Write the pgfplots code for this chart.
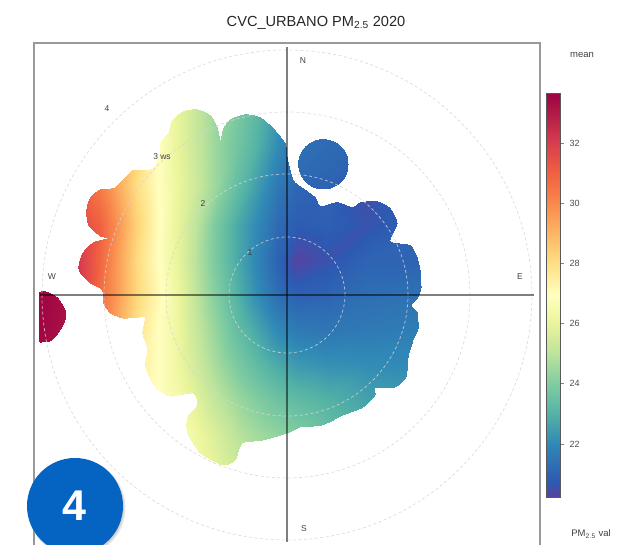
\documentclass[border=0pt]{standalone}
\usepackage{pgfplots}
\pgfplotsset{compat=1.18}
\usepackage{fontspec}
\setmainfont{Liberation Sans}
\definecolor{gridc}{gray}{0.84}
\definecolor{framec}{gray}{0.60}
\definecolor{badge}{RGB}{5,99,193}
\pgfplotsset{
  colormap={cvc}{
    rgb255(0pt)=(90,65,160);
    rgb255(5pt)=(45,90,178);
    rgb255(18pt)=(48,138,182);
    rgb255(28pt)=(85,180,165);
    rgb255(38pt)=(130,205,160);
    rgb255(48pt)=(190,228,155);
    rgb255(58pt)=(235,245,155);
    rgb255(67pt)=(255,255,190);
    rgb255(78pt)=(254,222,130);
    rgb255(88pt)=(253,180,100);
    rgb255(98pt)=(248,135,75);
    rgb255(108pt)=(240,95,65);
    rgb255(118pt)=(215,60,78);
    rgb255(128pt)=(175,25,70);
    rgb255(134.2pt)=(158,1,66)
  },
  base/.style={
    at={(34pt,-2pt)},anchor=south west,scale only axis,width=506pt,height=504pt,
    xmin=-253,xmax=253,ymin=-252,ymax=252,xtick=\empty,ytick=\empty,
  }
}
\begin{document}
\begin{tikzpicture}[x=1pt,y=1pt]
\useasboundingbox (0,0) rectangle (630,545);
\begin{axis}[base,axis line style={framec,line width=1.5pt},
  colormap name=cvc,point meta min=20.24,point meta max=33.66,
  colorbar,
  colorbar style={anchor=south west,at={(1.0119,0.0992)},width=14pt,height=404pt,
    ytick={22,24,26,28,30,32},
    ytick pos=right,
    major tick length=3.5pt,
    tick style={gray,line width=0.7pt},
    axis line style={gray!70!black,line width=0.5pt},
    tick align=outside,
    yticklabel style={font=\fontsize{9}{10}\selectfont,text=black!70,xshift=2.5pt,
       /pgf/number format/assume math mode=true},
    yticklabel pos=right},
  ]
\clip plot[smooth,tension=0.38] coordinates {
(0,138)(-2,152)(-14,167)(-27,178)(-42,181)(-57,176)(-64,167)(-67,155)
(-70,168)(-77,180)(-90,186)(-104,184)(-115,175)(-119,162)(-127,153)(-127,142)
(-134,127)(-144,125)(-155,125)(-167,113)(-174,107)(-187,106)(-197,98)(-201,85)
(-199,70)(-187,59)(-179,57)(-194,53)(-205,42)(-209,28)(-207,22)(-197,12)
(-185,5)(-184,-8)(-177,-18)(-164,-23)(-147,-22)(-142,-22)(-145,-38)(-140,-53)
(-142,-72)(-132,-92)(-117,-101)(-94,-98)(-90,-110)(-100,-122)(-100,-138)(-87,-158)
(-64,-170)(-52,-165)(-45,-148)(-24,-145)(0,-138)(13,-132)(35,-130)(56,-120)
(76,-112)(88,-100)(88,-93)(108,-92)(119,-82)(121,-62)(126,-45)(131,-33)
(130,-17)(124,-10)(131,-2)(134,8)(133,25)(130,38)(123,50)(103,54)
(110,72)(103,87)(90,94)(73,93)(65,88)(50,93)(33,89)(28,98)
(16,107)(6,115)(0,138)}
 -- cycle
 plot[smooth,tension=0.5] coordinates {
(-248,3)(-242,4)(-230,-2)(-222,-15)(-222,-25)(-229,-38)(-237,-46)(-248,-47)}
 -- cycle
 plot[smooth cycle,tension=0.7] coordinates {
(61,131)(58,143.5)(48.5,152.7)(36,156)(23.5,152.7)(14.3,143.5)
(11,131)(14.3,118.5)(23.5,109.3)(36,106)(48.5,109.3)(58,118.5)};
\addplot[surf,shader=interp,mesh/cols=17,mesh/rows=11,point meta=\thisrow{v}] table[row sep=\\,x=x,y=y] {
x y v\\
-250 190 32\\ -222 190 31.5\\ -205 190 31\\ -187 190 30.3\\ -170 190 29.6\\ -150 190 28.4\\ -130 190 27.2\\ -110 190 26\\ -90 190 25.2\\ -70 190 24.4\\ -50 190 23.9\\ -30 190 23.2\\ -10 190 22.4\\ 10 190 21.6\\ 40 190 21.2\\ 80 190 21\\ 135 190 21\\
-250 150 32\\ -222 150 31.5\\ -205 150 31\\ -187 150 30.3\\ -170 150 29.5\\ -150 150 28.3\\ -130 150 27\\ -110 150 26\\ -90 150 25.2\\ -70 150 24.4\\ -50 150 23.7\\ -30 150 23\\ -10 150 22.1\\ 10 150 21.4\\ 40 150 21.2\\ 80 150 21\\ 135 150 21\\
-250 110 32.5\\ -222 110 32\\ -205 110 31.3\\ -187 110 30.3\\ -170 110 29.3\\ -150 110 28\\ -130 110 27\\ -110 110 26.1\\ -90 110 25.3\\ -70 110 24.4\\ -50 110 23.4\\ -30 110 22.5\\ -10 110 21.6\\ 10 110 21.1\\ 40 110 21\\ 80 110 20.5\\ 135 110 21\\
-250 70 33\\ -222 70 32.4\\ -205 70 31.6\\ -187 70 31\\ -170 70 29.8\\ -150 70 28.3\\ -130 70 27.1\\ -110 70 26\\ -90 70 25\\ -70 70 23.8\\ -50 70 22.8\\ -30 70 22\\ -10 70 21.2\\ 10 70 20.8\\ 40 70 20.9\\ 80 70 20.6\\ 135 70 21\\
-250 35 33.4\\ -222 35 32.8\\ -205 35 31.9\\ -187 35 30.9\\ -170 35 29.6\\ -150 35 28.1\\ -130 35 27\\ -110 35 26\\ -90 35 24.9\\ -70 35 23.8\\ -50 35 22.8\\ -30 35 21.9\\ -10 35 21\\ 10 35 20.3\\ 40 35 20.6\\ 80 35 21\\ 135 35 21\\
-250 0 33.6\\ -222 0 33.3\\ -205 0 31.9\\ -187 0 30.7\\ -170 0 29.6\\ -150 0 28.2\\ -130 0 27.2\\ -110 0 26.2\\ -90 0 25\\ -70 0 24\\ -50 0 23\\ -30 0 22.1\\ -10 0 21.3\\ 10 0 20.9\\ 40 0 21\\ 80 0 21.3\\ 135 0 21.4\\
-250 -35 33.6\\ -222 -35 33.2\\ -205 -35 31.6\\ -187 -35 30.4\\ -170 -35 29.3\\ -150 -35 27.9\\ -130 -35 27\\ -110 -35 26.2\\ -90 -35 25.2\\ -70 -35 24.3\\ -50 -35 23.4\\ -30 -35 22.7\\ -10 -35 22\\ 10 -35 21.6\\ 40 -35 21.5\\ 80 -35 21.6\\ 135 -35 21.7\\
-250 -70 33.5\\ -222 -70 33\\ -205 -70 31\\ -187 -70 29.8\\ -170 -70 28.8\\ -150 -70 27.6\\ -130 -70 27\\ -110 -70 26.2\\ -90 -70 25.4\\ -70 -70 24.6\\ -50 -70 23.9\\ -30 -70 23.3\\ -10 -70 22.8\\ 10 -70 22.4\\ 40 -70 22.2\\ 80 -70 22.1\\ 135 -70 22\\
-250 -105 33\\ -222 -105 32\\ -205 -105 30\\ -187 -105 29\\ -170 -105 28.2\\ -150 -105 27.4\\ -130 -105 27\\ -110 -105 26.5\\ -90 -105 25.8\\ -70 -105 25.1\\ -50 -105 24.5\\ -30 -105 24\\ -10 -105 23.6\\ 10 -105 23.3\\ 40 -105 23\\ 80 -105 22.6\\ 135 -105 22.3\\
-250 -140 32\\ -222 -140 31\\ -205 -140 29.5\\ -187 -140 28.6\\ -170 -140 28\\ -150 -140 27.4\\ -130 -140 27\\ -110 -140 26.8\\ -90 -140 26.2\\ -70 -140 25.6\\ -50 -140 25\\ -30 -140 24.6\\ -10 -140 24.3\\ 10 -140 24\\ 40 -140 23.5\\ 80 -140 23\\ 135 -140 22.6\\
-250 -175 31\\ -222 -175 30\\ -205 -175 29\\ -187 -175 28.5\\ -170 -175 28\\ -150 -175 27.4\\ -130 -175 27\\ -110 -175 26.9\\ -90 -175 26.4\\ -70 -175 25.9\\ -50 -175 25.4\\ -30 -175 25\\ -10 -175 24.6\\ 10 -175 24.3\\ 40 -175 23.8\\ 80 -175 23.2\\ 135 -175 22.8\\
};
\end{axis}
\begin{axis}[base,hide axis]
\foreach \r in {58,121,183,245}{
  \edef\tmp{\noexpand\draw[gridc,dash pattern=on 3pt off 2.5pt,line width=0.7pt,opacity=0.85] (axis cs:0,0) circle[radius=\r];}\tmp
}
\addplot[black,opacity=0.5,line width=1.1pt] coordinates {(-247,0)(247,0)};
\addplot[black,opacity=0.5,line width=1.1pt] coordinates {(0,248)(0,-247)};
\end{axis}
\tikzset{small/.style={font=\fontsize{8.5}{9}\selectfont,text=black!75,inner sep=0pt}}
\node[font=\fontsize{14.6}{16}\selectfont,text=black!85,inner sep=0pt] at (316,522.5) {CVC\_URBANO PM$_{\mathrm{2.5}}$ 2020};
\node[small] at (303,484) {N};
\node[small] at (52,268) {W};
\node[small] at (520,268) {E};
\node[small] at (304,16) {S};
\node[small] at (107,436) {4};
\node[small] at (162,388) {3 ws};
\node[small] at (203,341) {2};
\node[small] at (250,292) {1};
\node[small,font=\fontsize{9.5}{10}\selectfont] at (582,490) {mean};
\node[small,font=\fontsize{9.5}{10}\selectfont] at (591,11) {PM$_{\mathrm{2.5}}$ val};
\fill[gray!55,opacity=0.35] (76.5,37) circle[radius=49];
\fill[gray!55,opacity=0.5] (76,37.5) circle[radius=48];
\fill[badge] (75,39) circle[radius=48];
\node[font=\fontsize{43}{45}\bfseries\selectfont,text=white,inner sep=0pt] at (74.5,39.5) {4};
\end{tikzpicture}
\end{document}
